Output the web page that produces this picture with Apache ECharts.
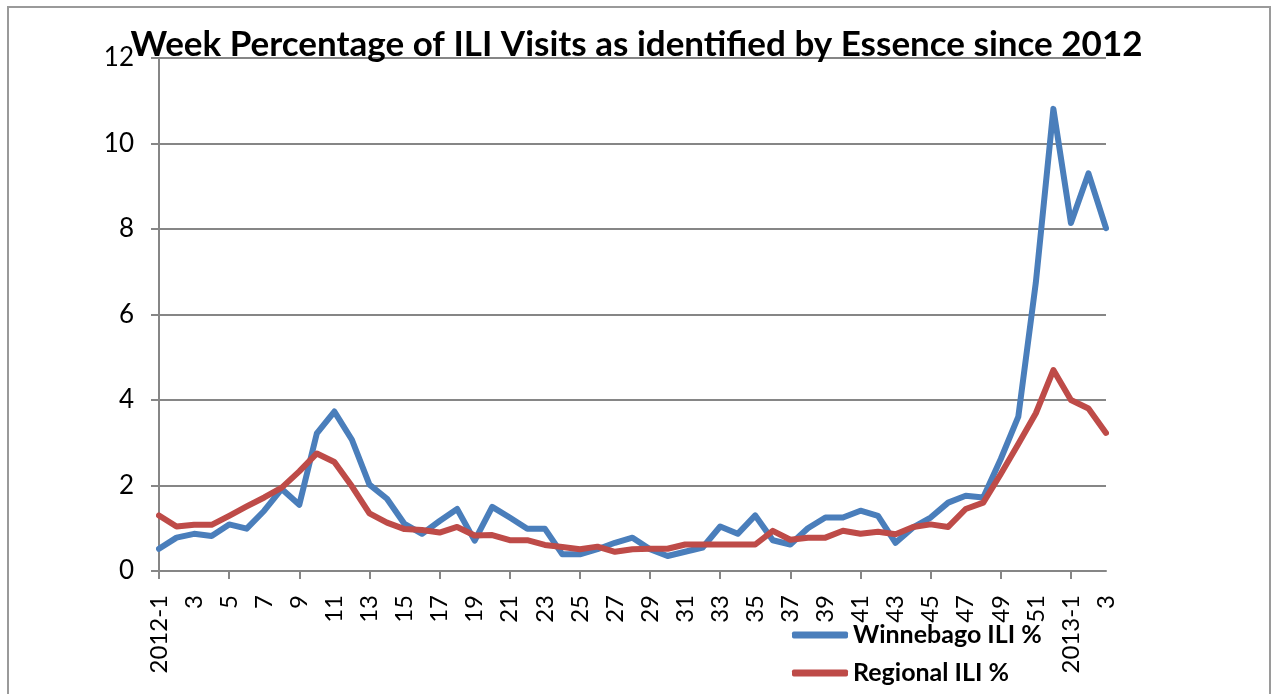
<!DOCTYPE html>
<html>
<head>
<meta charset="utf-8">
<script src="https://cdn.jsdelivr.net/npm/echarts@6/dist/echarts.min.js"></script>
<style>
html,body{margin:0;padding:0;background:#fff;}
#chart{width:1273px;height:694px;}
</style>
</head>
<body>
<div id="chart"></div>
<script>
var categories = ["2012-1"];
for (var w = 2; w <= 52; w++) categories.push(String(w));
categories.push("2013-1", "2", "3");

var winnebago = [0.52,0.78,0.87,0.82,1.09,0.99,1.41,1.92,1.55,3.22,3.73,3.07,2.02,1.69,1.10,0.87,1.17,1.45,0.71,1.50,1.25,0.99,0.99,0.39,0.39,0.51,0.66,0.78,0.51,0.35,0.45,0.55,1.04,0.87,1.30,0.72,0.62,1.00,1.25,1.25,1.41,1.29,0.66,1.02,1.25,1.60,1.76,1.72,2.62,3.61,6.75,10.81,8.14,9.30,8.02];
var regional = [1.30,1.04,1.08,1.08,1.29,1.51,1.72,1.95,2.33,2.75,2.55,1.98,1.35,1.13,0.98,0.96,0.90,1.03,0.83,0.84,0.72,0.72,0.61,0.56,0.51,0.57,0.45,0.51,0.52,0.52,0.62,0.62,0.62,0.62,0.62,0.94,0.73,0.78,0.78,0.94,0.87,0.92,0.86,1.03,1.09,1.03,1.45,1.60,2.27,2.97,3.69,4.70,4.00,3.80,3.23];

var titleText = "Week Percentage of ILI Visits as identified by Essence since 2012";
var seriesNames = ["Winnebago ILI %", "Regional ILI %"];

var FONT = "Lato,'DejaVu Sans Condensed',sans-serif";
var GRID = "#868686";

function legendAt(name, top) {
  return {
    orient: 'horizontal',
    left: 792,
    top: top,
    padding: 0,
    itemWidth: 56,
    itemHeight: 7,
    itemGap: 5,
    icon: 'roundRect',
    data: [name],
    textStyle: {fontFamily: FONT, fontWeight: 'bold', fontSize: 25, color: '#000', lineHeight: 30}
  };
}

var chart = echarts.init(document.getElementById('chart'), null, {renderer: 'canvas'});
chart.setOption({
  animation: false,
  backgroundColor: '#ffffff',
  title: {
    text: titleText,
    left: 'center',
    top: 27,
    padding: 0,
    textStyle: {fontFamily: FONT, fontWeight: 'bold', fontSize: 35, color: '#000'}
  },
  graphic: [{
    type: 'rect',
    shape: {x: 8, y: 7, width: 1262, height: 720},
    style: {fill: 'none', stroke: '#9a9a9a', lineWidth: 2},
    silent: true,
    z: -1
  }],
  legend: [legendAt(seriesNames[0], 620), legendAt(seriesNames[1], 658)],
  grid: {left: 159, right: 167, top: 58, bottom: 123, containLabel: false},
  xAxis: {
    type: 'category',
    data: categories,
    boundaryGap: false,
    axisLine: {lineStyle: {color: GRID, width: 2}},
    axisTick: {show: true, interval: 3, length: 8, lineStyle: {color: GRID, width: 2}},
    axisLabel: {interval: 1, rotate: 90, margin: 24, fontFamily: FONT, fontSize: 24, color: '#000'},
    splitLine: {show: false}
  },
  yAxis: {
    type: 'value',
    min: 0, max: 12, interval: 2,
    axisLine: {show: true, lineStyle: {color: GRID, width: 2}},
    axisTick: {show: true, length: 8, lineStyle: {color: GRID, width: 2}},
    axisLabel: {margin: 25, fontFamily: FONT, fontSize: 26, color: '#000'},
    splitLine: {show: true, lineStyle: {color: GRID, width: 2}}
  },
  series: [
    {name: seriesNames[0], type: 'line', data: winnebago, symbol: 'none', z: 3,
     lineStyle: {color: '#4a7ebb', width: 6, cap: 'round', join: 'round'}, itemStyle: {color: '#4a7ebb'}},
    {name: seriesNames[1], type: 'line', data: regional, symbol: 'none', z: 4,
     lineStyle: {color: '#be4b48', width: 6, cap: 'round', join: 'round'}, itemStyle: {color: '#be4b48'}}
  ]
});
</script>
</body>
</html>
